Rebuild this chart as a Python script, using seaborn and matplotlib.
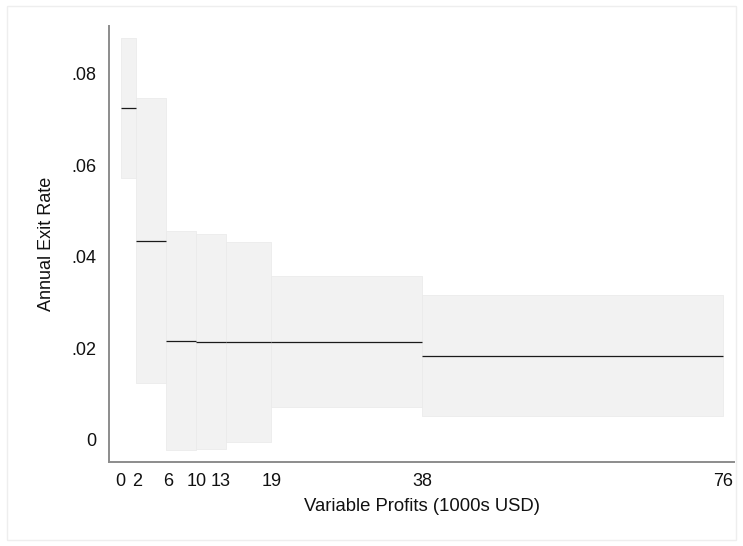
import matplotlib
matplotlib.use("Agg")
import matplotlib.pyplot as plt
import matplotlib.patches as mpatches
import numpy as np
import seaborn as sns

# Bin edges of variable profits (1000s USD)
bin_edges = [0.0, 1.9, 5.7, 9.5, 13.25, 19.0, 38.0, 76.0]
# Mean annual exit rate per bin and its confidence band
exit_rate = [0.0725, 0.0434, 0.0216, 0.0213, 0.0213, 0.0213, 0.0183]
ci_low = [0.0572, 0.0123, -0.0023, -0.0021, -0.0005, 0.0070, 0.0051]
ci_high = [0.0877, 0.0746, 0.0456, 0.0449, 0.0431, 0.0357, 0.0316]

x_tick_pos = [0.0, 2.1, 6.0, 9.6, 12.6, 19.1, 38.1, 76.0]
x_tick_labels = ["0", "2", "6", "10", "13", "19", "38", "76"]
y_ticks = [0.0, 0.02, 0.04, 0.06, 0.08]
y_tick_labels = ["0", ".02", ".04", ".06", ".08"]

sns.set_theme(style="white")
plt.rcParams["font.family"] = ["Liberation Sans", "DejaVu Sans"]

fig = plt.figure(figsize=(7.43, 5.46), dpi=100)
ax = fig.add_axes([109 / 743, (546 - 461.7) / 546, (734.3 - 109) / 743, (461.7 - 26) / 546])

left = np.array(bin_edges[:-1])
right = np.array(bin_edges[1:])
widths = right - left
lo = np.array(ci_low)
hi = np.array(ci_high)

# Confidence bands as bars spanning each bin
ax.bar(left, hi - lo, width=widths, bottom=lo, align="edge",
       color="#f2f2f2", edgecolor="#ebebeb", linewidth=0.6, zorder=1)
# Bin means
ax.hlines(exit_rate, left, right, colors="#1a1a1a", linewidth=0.9, zorder=3)

ax.set_xlim(-1.48, 77.4)
ax.set_ylim(-0.00485, 0.0904)
ax.set_xticks(x_tick_pos)
ax.set_xticklabels(x_tick_labels)
ax.set_yticks(y_ticks)
ax.set_yticklabels(y_tick_labels)
ax.tick_params(axis="both", length=0, labelsize=13, colors="#111111")
ax.tick_params(axis="x", pad=8)
ax.tick_params(axis="y", pad=9)

ax.set_xlabel("Variable Profits (1000s USD)", fontsize=13.3, color="#111111", labelpad=6)
ax.set_ylabel("Annual Exit Rate", fontsize=13, color="#111111", labelpad=12)

for side in ["top", "right"]:
    ax.spines[side].set_visible(False)
for side in ["left", "bottom"]:
    ax.spines[side].set_color("#8c8c8c")
    ax.spines[side].set_linewidth(1.4)

# Light frame around the graph region
fig.patches.append(mpatches.Rectangle((7 / 743, 6 / 546), 729 / 743, 534 / 546,
                                      transform=fig.transFigure, fill=False,
                                      edgecolor="#eeeeee", linewidth=1.0))

fig.savefig("out.png", dpi=100)
